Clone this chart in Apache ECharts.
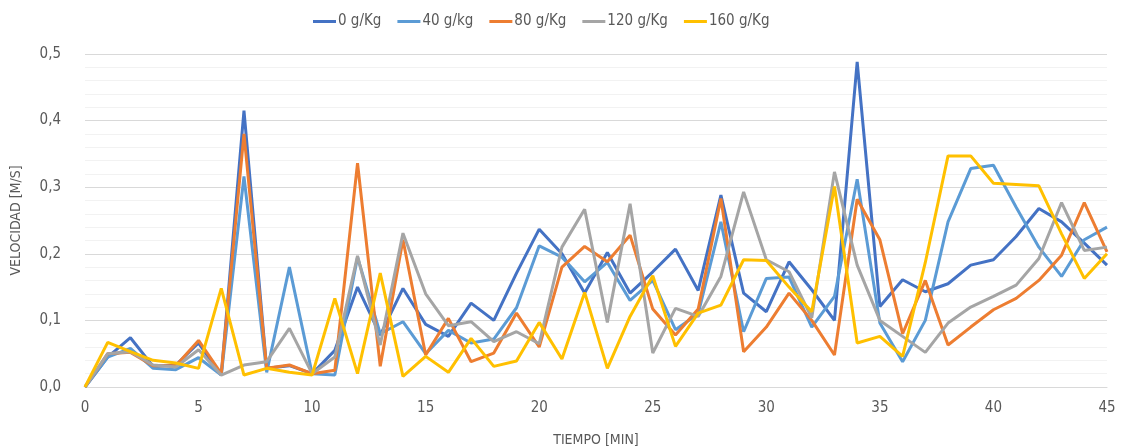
<!DOCTYPE html>
<html><head><meta charset="utf-8">
<script src="https://cdn.jsdelivr.net/npm/echarts@6/dist/echarts.min.js"></script>
<style>html,body{margin:0;padding:0;background:#fff}#c{width:1124px;height:447px}</style>
</head><body><div id="c"></div>
<script>
const minutes = Array.from({length: 46}, (_, i) => i);
const seriesNames = ['0 g/Kg', '40 g/kg', '80 g/Kg', '120 g/Kg', '160 g/Kg'];
const s0 = [0,0.045,0.074,0.031,0.033,0.066,0.018,0.415,0.028,0.032,0.02,0.055,0.15,0.078,0.148,0.094,0.076,0.126,0.1,0.171,0.237,0.2,0.141,0.202,0.141,0.173,0.207,0.145,0.288,0.141,0.113,0.188,0.146,0.1,0.488,0.121,0.161,0.143,0.155,0.183,0.191,0.226,0.268,0.248,0.216,0.183];
const s40 = [0,0.045,0.058,0.028,0.026,0.044,0.018,0.316,0.022,0.18,0.02,0.018,0.195,0.08,0.098,0.05,0.085,0.066,0.072,0.119,0.212,0.195,0.158,0.187,0.13,0.16,0.086,0.11,0.248,0.083,0.163,0.165,0.09,0.136,0.312,0.096,0.038,0.1,0.248,0.328,0.333,0.27,0.21,0.166,0.221,0.24];
const s80 = [0,0.05,0.052,0.032,0.032,0.07,0.02,0.38,0.028,0.033,0.02,0.025,0.336,0.031,0.221,0.048,0.103,0.038,0.051,0.111,0.06,0.18,0.211,0.188,0.228,0.117,0.078,0.117,0.283,0.053,0.09,0.141,0.1,0.048,0.282,0.221,0.08,0.16,0.063,0.09,0.116,0.133,0.16,0.198,0.277,0.203];
const s120 = [0,0.05,0.053,0.033,0.03,0.056,0.018,0.033,0.038,0.088,0.02,0.045,0.197,0.063,0.231,0.14,0.092,0.098,0.068,0.083,0.065,0.21,0.267,0.097,0.275,0.051,0.118,0.106,0.166,0.293,0.191,0.173,0.104,0.323,0.183,0.1,0.076,0.052,0.096,0.12,0.136,0.153,0.193,0.277,0.205,0.21];
const s160 = [0,0.067,0.053,0.04,0.036,0.028,0.148,0.018,0.028,0.022,0.018,0.133,0.02,0.171,0.016,0.046,0.022,0.073,0.031,0.039,0.097,0.042,0.142,0.028,0.106,0.167,0.061,0.111,0.123,0.191,0.19,0.15,0.113,0.301,0.066,0.076,0.046,0.187,0.347,0.347,0.306,0.304,0.302,0.23,0.163,0.2];
const allValues = [s0, s40, s80, s120, s160];
const colors = ['#4472C4', '#5B9BD5', '#ED7D31', '#A5A5A5', '#FFC000'];

const font = "'Liberation Sans Narrow', 'DejaVu Sans Condensed', 'Open Sans', sans-serif";
const txt = '#595959';
const chart = echarts.init(document.getElementById('c'), null, {renderer: 'canvas'});
chart.setOption({
  animation: false,
  textStyle: {fontFamily: font},
  color: colors,
  legend: {
    top: 9, left: 308, itemGap: 16, itemWidth: 23, itemHeight: 3, icon: 'rect',
    textStyle: {color: txt, fontSize: 15, fontFamily: font, padding: [0, 0, 0, -3]},
    data: seriesNames
  },
  grid: {left: 85, right: 17, top: 54, bottom: 60, outerBoundsMode: 'none', containLabel: false},
  xAxis: {
    type: 'value', min: 0, max: 45, interval: 5,
    name: 'TIEMPO [MIN]', nameLocation: 'middle', nameGap: 46,
    nameTextStyle: {color: txt, fontSize: 14, fontFamily: font},
    axisLine: {show: true, lineStyle: {color: '#D9D9D9', width: 1}},
    axisTick: {show: false},
    splitLine: {show: false},
    axisLabel: {color: txt, fontSize: 15, margin: 14, fontFamily: font}
  },
  yAxis: {
    type: 'value', min: 0, max: 0.5, interval: 0.1,
    name: 'VELOCIDAD [M/S]', nameLocation: 'middle', nameGap: 62,
    nameTextStyle: {color: txt, fontSize: 14, fontFamily: font},
    axisLine: {show: false}, axisTick: {show: false},
    axisLabel: {color: txt, fontSize: 15, margin: 24, fontFamily: font,
      formatter: v => v.toFixed(1).replace('.', ',')},
    splitLine: {show: true, lineStyle: {color: '#D9D9D9', width: 1}},
    minorTick: {show: false, splitNumber: 5},
    minorSplitLine: {show: true, lineStyle: {color: '#F2F2F2', width: 1}}
  },
  series: seriesNames.map((n, k) => ({
    name: n, type: 'line', showSymbol: false, symbol: 'none',
    lineStyle: {width: 3, color: colors[k]},
    itemStyle: {color: colors[k]},
    data: minutes.map((m, i) => [m, allValues[k][i]])
  }))
});
</script></body></html>
